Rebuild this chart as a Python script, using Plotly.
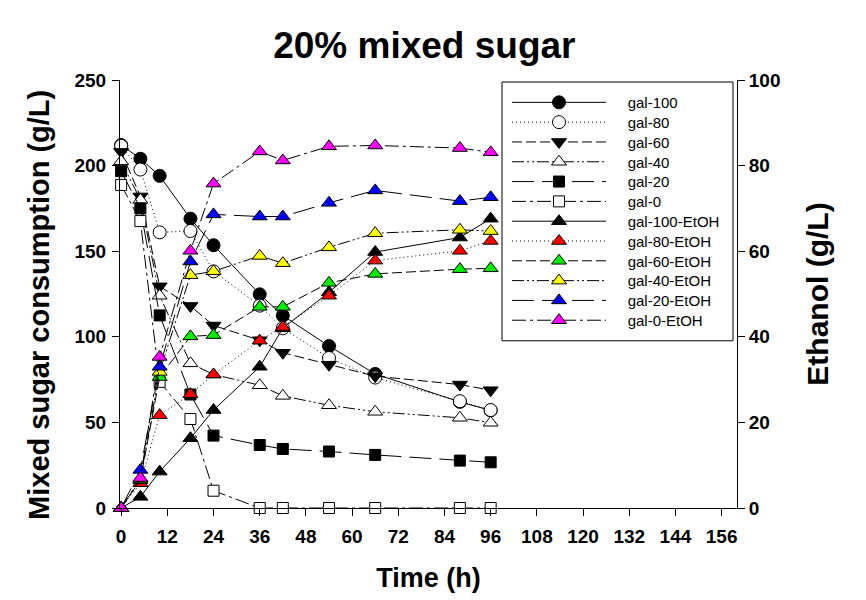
import plotly.graph_objects as go

time_h = [0, 5, 10, 18, 24, 36, 42, 54, 66, 88, 96]

gal_100 = [212, 204, 194, 169, 153.5, 124.8, 112.4, 94.6, 78.3, 62, 57]
gal_80 = [211.6, 197.7, 161, 161.8, 138.2, 118.2, 105, 87.6, 76.2, 62.4, 57.2]
gal_60 = [208, 182, 129.5, 118, 106.6, 98, 90.7, 83.7, 77, 72.1, 68.8]
gal_40 = [202.5, 180, 124, 84.5, 78, 71.7, 65.5, 60, 56.2, 52.7, 49.8]
gal_20 = [196.7, 175, 112.5, 66.3, 42.3, 36.8, 34.5, 33, 31, 27.7, 26.7]
gal_0 = [188.7, 167.6, 73.7, 52, 10.1, 0, 0, 0, 0, 0, 0]

etoh_100 = [0, 2.6, 8.5, 16.3, 22.9, 33, 42, 50.4, 59.8, 63.2, 67.6]
etoh_80 = [0, 5.8, 21.7, 26.6, 31.2, 39.1, 42.3, 49.6, 57.8, 60.1, 62.4]
etoh_60 = [0, 6.5, 30.6, 40.1, 40.4, 47, 47, 52.6, 54.7, 55.8, 56]
etoh_40 = [0, 6.8, 31.8, 54.4, 55.3, 58.9, 57.2, 60.9, 64.2, 65, 64.7]
etoh_20 = [0, 8.9, 33, 57.6, 68.6, 68.1, 68.1, 71.3, 74.2, 71.7, 72.6]
etoh_0 = [0, 7, 35.3, 60.1, 75.8, 83.3, 81.2, 84.5, 84.7, 84.1, 83.1]

x_ticks = list(range(0, 157, 12))

dashes = ["solid", "1px,3px", "10px,4px", "12px,3px,2px,3px,2px,3px", "22px,8px", "14px,4px,3px,4px"]

sugar_series = [
    ("gal-100", gal_100, "circle", "black", 13),
    ("gal-80", gal_80, "circle", "white", 13),
    ("gal-60", gal_60, "triangle-down", "black", 13),
    ("gal-40", gal_40, "triangle-up", "white", 13),
    ("gal-20", gal_20, "square", "black", 11),
    ("gal-0", gal_0, "square", "white", 11),
]
etoh_series = [
    ("gal-100-EtOH", etoh_100, "black"),
    ("gal-80-EtOH", etoh_80, "#ff0000"),
    ("gal-60-EtOH", etoh_60, "#00ee00"),
    ("gal-40-EtOH", etoh_40, "#ffff00"),
    ("gal-20-EtOH", etoh_20, "#0000ff"),
    ("gal-0-EtOH", etoh_0, "#ff00ff"),
]

# plot area in pixels (for placing legend entries and titles)
PL, PR, PT, PB = 120, 737, 80, 510
pw, ph = PR - PL, PB - PT

def px_x(p):
    return (p - PL) / pw

def px_y(p):
    return (PB - p) / ph

legend_font = dict(family="Liberation Sans, Arial, sans-serif", size=15, color="black")
entry_y0, entry_dy = 102.7, 19.9
pad = "    "

fig = go.Figure()
k = 0
for i, (name, vals, sym, fill, sz) in enumerate(sugar_series):
    lg = "legend" if k == 0 else f"legend{k + 1}"
    fig.add_trace(go.Scatter(
        x=time_h, y=vals, name=pad + name, mode="lines+markers", yaxis="y", legend=lg,
        line=dict(color="black", width=1, dash=dashes[i]),
        marker=dict(symbol=sym, size=sz, color=fill, line=dict(color="black", width=1)),
        cliponaxis=False,
    ))
    k += 1
for i, (name, vals, col) in enumerate(etoh_series):
    lg = f"legend{k + 1}"
    fig.add_trace(go.Scatter(
        x=time_h, y=vals, name=pad + name, mode="lines+markers", yaxis="y2", legend=lg,
        line=dict(color="black", width=1, dash=dashes[i]),
        marker=dict(symbol="triangle-up", size=13, color=col, line=dict(color="black", width=1)),
        cliponaxis=False,
    ))
    k += 1

legends = {}
for j in range(k):
    key = "legend" if j == 0 else f"legend{j + 1}"
    legends[key] = dict(x=px_x(507), y=px_y(entry_y0 + j * entry_dy), xanchor="left", yanchor="middle",
                        bgcolor="rgba(0,0,0,0)", borderwidth=0, itemwidth=94, font=legend_font)

axis_font = dict(family="Liberation Sans, Arial, sans-serif", size=19, color="black", weight="bold")
title_font = dict(family="Liberation Sans, Arial, sans-serif", size=30, color="black", weight="bold")

fig.update_layout(
    width=866, height=600,
    margin=dict(l=PL, r=866 - PR, t=PT, b=600 - PB),
    paper_bgcolor="white", plot_bgcolor="white",
    title=dict(text="20% mixed sugar", x=0.49, xanchor="center", y=0.925, yanchor="middle",
               font=dict(family="Liberation Sans, Arial, sans-serif", size=37, color="black", weight="bold")),
    xaxis=dict(range=[-0.3, 160], tickvals=x_ticks, showline=True, linecolor="black", linewidth=1,
               ticks="outside", ticklen=7, tickcolor="black", showgrid=False, zeroline=False,
               tickfont=axis_font, ticklabelstandoff=4,
               title=dict(text="Time (h)", font=dict(title_font, size=27), standoff=22)),
    yaxis=dict(range=[0, 250], tickvals=[0, 50, 100, 150, 200, 250], showline=True, linecolor="black",
               linewidth=1, ticks="outside", ticklen=7, tickcolor="black", showgrid=False, zeroline=False,
               tickfont=axis_font, ticklabelstandoff=2),
    yaxis2=dict(range=[0, 100], tickvals=[0, 20, 40, 60, 80, 100], overlaying="y", side="right",
                showline=True, linecolor="black", linewidth=1, ticks="outside", ticklen=7,
                tickcolor="black", showgrid=False, zeroline=False, tickfont=axis_font,
                title=dict(text="Ethanol (g/L)", font=title_font, standoff=27)),
    annotations=[dict(text="Mixed sugar consumption (g/L)", textangle=-90, showarrow=False,
                      xref="paper", yref="paper", x=px_x(39), y=px_y(306),
                      xanchor="center", yanchor="middle", font=dict(title_font, size=29))],
    shapes=[dict(type="rect", xref="paper", yref="paper", x0=px_x(502), x1=px_x(733),
                 y0=px_y(342), y1=px_y(82), line=dict(color="black", width=1),
                 fillcolor="white", layer="below")],
    showlegend=True,
    **legends,
)

fig.write_html("out.html")
